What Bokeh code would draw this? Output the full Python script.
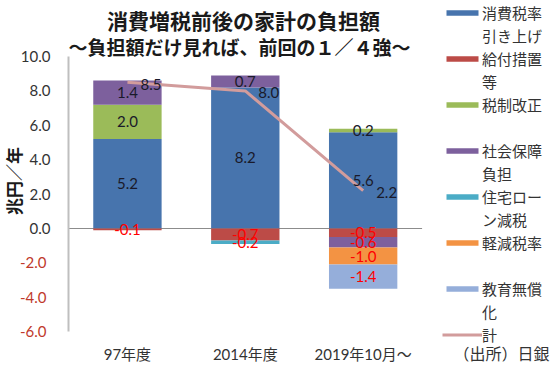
import numpy as np
from bokeh.plotting import figure
from bokeh.models import (ColumnDataSource, Range1d, Legend, LegendItem, Label,
                          LinearAxis, FixedTicker, NumeralTickFormatter)
from bokeh.core.properties import value
from bokeh.embed import file_html
from bokeh.resources import INLINE

# ---- data ----
categories = ["97年度", "2014年度", "2019年10月～"]
consumption_tax = [5.2, 8.2, 5.6]
benefits = [-0.1, -0.7, -0.5]
tax_reform = [2.0, 0.0, 0.2]
social_security = [1.4, 0.7, -0.6]
housing_loan = [0.0, -0.2, 0.0]
reduced_rate = [0.0, 0.0, -1.0]
free_education = [0.0, 0.0, -1.4]
total = [8.5, 8.0, 2.2]
series_labels = [["消費税率", "引き上げ"], ["給付措置", "等"], ["税制改正", " "], ["社会保障", "負担"],
                 ["住宅ロー", "ン減税"], ["軽減税率", " "], ["教育無償", "化"]]
total_label = "計"
pos_ticks = [0, 2, 4, 6, 8, 10]
neg_ticks = [-6, -4, -2]
y_min, y_max = -6, 10
title1 = "消費増税前後の家計の負担額"
title2 = "～負担額だけ見れば、前回の１／４強～"
source_note = "（出所）日銀"
y_axis_title = "兆円／年"

series = [consumption_tax, benefits, tax_reform, social_security,
          housing_loan, reduced_rate, free_education]
colors = ["#4774AD", "#BC4B47", "#9BBB59", "#7D609D", "#4BACC6", "#F39343", "#95AEDA"]
line_color = "#D29C9C"

NUM_FONT = "Lato, 'Noto Sans CJK JP'"
JP_FONT = "'Noto Sans CJK JP'"

# layout geometry (pixels): the plotting frame covers the canvas so that titles,
# legend and notes can live inside it; the value scale is set so that 10..-6 spans 56..331 px
W, H = 550, 367
LEFT, BOTTOM = 62, 6
PX_PER_UNIT = 17.2
ZERO_PX = 228
PX_PER_CAT = 119.33
frame_h = H - BOTTOM
frame_w = W - LEFT
n = len(categories)
y_range = Range1d(-(frame_h - ZERO_PX) / PX_PER_UNIT, ZERO_PX / PX_PER_UNIT)
x_range = Range1d(-0.5, -0.5 + frame_w / PX_PER_CAT)
xi = list(range(n))

p = figure(width=W, height=H, x_range=x_range, y_range=y_range,
           min_border_left=LEFT, min_border_right=0, min_border_top=0, min_border_bottom=BOTTOM,
           x_axis_location=None, y_axis_location=None,
           output_backend="svg", toolbar_location=None)
p.title.text = ""
p.outline_line_color = None
p.xgrid.grid_line_color = None
p.ygrid.grid_line_color = None
p.background_fill_color = "white"
p.border_fill_color = "white"

# x axis (category names)
xa = LinearAxis(ticker=FixedTicker(ticks=xi), bounds=(-0.5, n - 0.5),
                major_label_overrides={i: c for i, c in zip(xi, categories)})
xa.axis_line_color = None
xa.major_tick_line_color = None
xa.minor_tick_line_color = None
xa.major_tick_out = 0
xa.major_tick_in = 0
xa.major_label_standoff = -17
xa.major_label_text_font = NUM_FONT
xa.major_label_text_font_size = "15px"
xa.major_label_text_color = "#333333"
p.add_layout(xa, "below")

# y axis (positive ticks)
ya = LinearAxis(ticker=FixedTicker(ticks=pos_ticks), formatter=NumeralTickFormatter(format="0.0"),
                bounds=(y_min, y_max))
ya.axis_line_color = "#BFBFBF"
ya.axis_line_width = 2
ya.major_tick_line_color = None
ya.minor_tick_line_color = None
ya.major_tick_out = 0
ya.major_tick_in = 0
ya.major_label_standoff = 18
ya.major_label_text_font = NUM_FONT
ya.major_label_text_font_size = "15px"
ya.major_label_text_color = "#333333"
p.add_layout(ya, "left")

# y axis (negative ticks, red) carrying the axis title
ya2 = LinearAxis(ticker=FixedTicker(ticks=neg_ticks), formatter=NumeralTickFormatter(format="0.0"),
                 bounds=(y_min - 0.3, y_max - 0.3))
ya2.axis_line_color = None
ya2.major_tick_line_color = None
ya2.minor_tick_line_color = None
ya2.major_tick_out = 0
ya2.major_tick_in = 0
ya2.major_label_standoff = -29
ya2.major_label_text_font = NUM_FONT
ya2.major_label_text_font_size = "15px"
ya2.major_label_text_color = "#C0392B"
ya2.axis_label = y_axis_title
ya2.axis_label_standoff = -8
ya2.axis_label_text_font = NUM_FONT
ya2.axis_label_text_font_size = "17px"
ya2.axis_label_text_font_style = "bold"
ya2.axis_label_text_color = "#1A1A1A"
p.add_layout(ya2, "left")

# zero baseline across the category area
p.segment(x0=[-0.5], x1=[n - 0.5], y0=[0], y1=[0], line_color="#8C8C8C", line_width=1, level="underlay")

# stacked bars
pos_base = np.zeros(n)
neg_base = np.zeros(n)
lab_x, lab_y, lab_t, lab_c = [], [], [], []
bar_renderers = []
for vals, col in zip(series, colors):
    v = np.array(vals, dtype=float)
    bottom = np.where(v >= 0, pos_base, neg_base + v)
    top = np.where(v >= 0, pos_base + v, neg_base)
    pos_base = pos_base + np.where(v > 0, v, 0)
    neg_base = neg_base + np.where(v < 0, v, 0)
    mask = v != 0
    xs = [i for i, m in zip(xi, mask) if m]
    src = ColumnDataSource(dict(x=xs, top=top[mask], bottom=bottom[mask]))
    r = p.vbar(x="x", top="top", bottom="bottom", width=0.58, fill_color=col, line_color=None, source=src)
    bar_renderers.append(r)
    for i, b, t, val in zip(xs, bottom[mask], top[mask], v[mask]):
        lab_x.append(i)
        lab_y.append((b + t) / 2)
        lab_t.append(f"{val:.1f}")
        lab_c.append("#FF0000" if val < 0 else "#1A1A2A")

# total line
lr = p.line(x=xi, y=total, line_color=line_color, line_width=3)

# segment labels
p.text(x="x", y="y", text="t", text_color="c", source=ColumnDataSource(dict(x=lab_x, y=lab_y, t=lab_t, c=lab_c)),
       text_align="center", text_baseline="middle", text_font=value(NUM_FONT), text_font_size="15px")
# total labels
p.text(x=xi, y=total, text=[f"{t:.1f}" for t in total], x_offset=13, y_offset=2,
       text_align="left", text_baseline="middle", text_font=value(NUM_FONT), text_font_size="15px",
       text_color="#1A1A2A")

# legend (continuation lines use an invisible renderer)
blank = p.vbar(x=[], top=[], width=0.5, fill_alpha=0, line_alpha=0)
items = []
for (first, second), r in zip(series_labels, bar_renderers):
    items.append(LegendItem(label=first, renderers=[r]))
    items.append(LegendItem(label=second, renderers=[blank]))
items.append(LegendItem(label=total_label, renderers=[lr]))
legend = Legend(items=items, location=(374, 15), orientation="vertical",
                padding=0, margin=0, spacing=0, border_line_color=None, background_fill_alpha=0,
                glyph_width=40, glyph_height=7, label_height=23, label_standoff=-3,
                label_text_font=JP_FONT, label_text_font_size="15px", label_text_color="#333333")
p.add_layout(legend, "center")

# titles and source note (screen units relative to the frame's bottom-left corner)
def add_text(px, py, text, size, bold=False, align="center", color="#1A1A1A"):
    p.add_layout(Label(x=px - LEFT, y=frame_h - py, x_units="screen", y_units="screen", text=text,
                       text_align=align, text_baseline="middle", text_font=JP_FONT,
                       text_font_size=size, text_font_style="bold" if bold else "normal",
                       text_color=color))

add_text(237, 19, title1, "21px", bold=True)
add_text(233, 46, title2, "19px", bold=True)
add_text(543, 352, source_note, "16px", align="right", color="#333333")

open("out.html", "w").write(file_html(p, INLINE))
